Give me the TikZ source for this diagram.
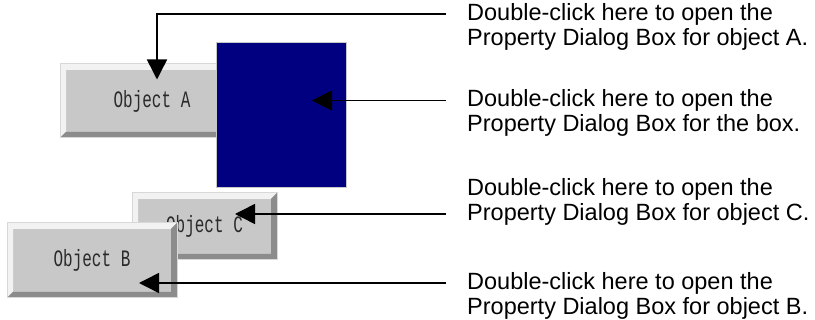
\documentclass[tikz,border=0pt]{standalone}
\usepackage{fontspec}
\setmainfont{Liberation Sans}
\newfontfamily\btnfont[FakeStretch=0.68]{Liberation Mono}
\usepackage{xcolor}
\definecolor{btnface}{HTML}{C8C8C8}
\definecolor{btnlight}{HTML}{F2F2F2}
\definecolor{btndark}{HTML}{8C8C8C}
\definecolor{btnrim}{HTML}{D8D8D8}
\definecolor{btntext}{HTML}{2A2A2A}
\definecolor{navy}{HTML}{000080}
\usepackage{tikz}
\usetikzlibrary{arrows.meta, calc}
\tikzset{
    btn/.style = {rectangle, fill=btnface, draw=btnrim, line width=1pt,
                  inner sep=0pt, text=btntext, font=\btnfont\fontsize{23.5}{24}\selectfont,
                  path picture={
                    \path (path picture bounding box.north west) coordinate (p1)
                          (path picture bounding box.south east) coordinate (p2);
                    \fill[btnlight] (p1) -- (p1 -| p2) -- ($(p1 -| p2)+(-6pt,-6pt)$)
                        -- ($(p1)+(6pt,-6pt)$) -- ($(p1 |- p2)+(6pt,6pt)$) -- (p1 |- p2) -- cycle;
                    \fill[btndark] (p2) -- (p1 -| p2) -- ($(p1 -| p2)+(-6pt,-6pt)$)
                        -- ($(p2)+(-6pt,6pt)$) -- ($(p1 |- p2)+(6pt,6pt)$) -- (p1 |- p2) -- cycle;
                  }},
    bluebox/.style = {rectangle, fill=navy, draw=btnface, line width=1pt, inner sep=0pt},
    note/.style = {anchor=west, align=left, inner sep=0pt,
                   font=\fontsize{23.5}{25}\selectfont},
    callout/.style = {-{Triangle[length=20pt, width=20pt]}, line width=1.5pt, color=black},
}

\begin{document}
\begin{tikzpicture}[x=1pt, y=-1pt]
    \useasboundingbox (0,0) rectangle (815,320);
    % objects
    \node[btn, minimum width=184pt, minimum height=74pt] (objA) at (152,101) {Object A};
    \node[bluebox, minimum width=130pt, minimum height=145pt] (box) at (281,115.5) {};
    \node[btn, minimum width=145pt, minimum height=67pt] (objC) at (204.5,226.5) {Object C};
    \node[btn, minimum width=170pt, minimum height=75pt] (objB) at (92,260.5) {Object B};
    % notes
    \node[note] (noteA) at (467,27) {Double-click here to open the\\Property Dialog Box for object A.};
    \node[note] (noteBox) at (467,113) {Double-click here to open the\\Property Dialog Box for the box.};
    \node[note] (noteC) at (467,202) {Double-click here to open the\\Property Dialog Box for object C.};
    \node[note] (noteB) at (467,295.5) {Double-click here to open the\\Property Dialog Box for object B.};
    % leader ends
    \coordinate (sA) at (446,14);
    \coordinate (sBox) at (446,100.5);
    \coordinate (sC) at (446,214);
    \coordinate (sB) at (446,283);
    % arrows
    \draw[callout] (sA) -| ([xshift=5pt, yshift=-16pt]objA.north);
    \draw[callout] (sBox) -- ([xshift=31pt, yshift=15pt]box.center);
    \draw[callout] (sC) -- ([xshift=30.5pt, yshift=12.5pt]objC.center);
    \draw[callout] (sB) -- ([xshift=47pt, yshift=-22.5pt]objB.center);
\end{tikzpicture}
\end{document}
